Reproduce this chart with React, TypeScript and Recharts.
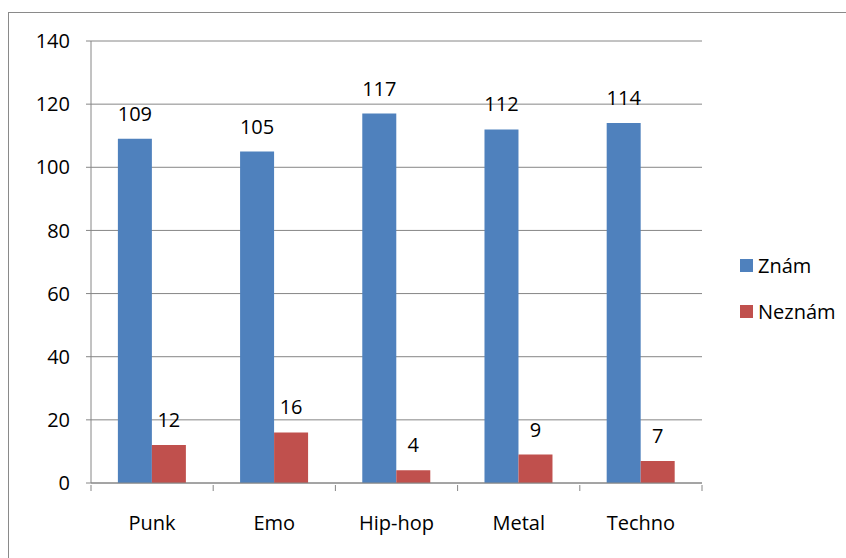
import { BarChart, Bar, XAxis, YAxis, CartesianGrid, LabelList } from 'recharts';

const genres = ['Punk', 'Emo', 'Hip-hop', 'Metal', 'Techno'];
const znam = [109, 105, 117, 112, 114];
const neznam = [12, 16, 4, 9, 7];
const yTicks = [0, 20, 40, 60, 80, 100, 120, 140];

const series = [
  { key: 'znam', name: 'Znám', color: '#4F81BD' },
  { key: 'neznam', name: 'Neznám', color: '#C0504D' },
];

const GRID = '#868686';
const FONT = '"Open Sans", sans-serif';

const data = genres.map((g, i) => ({ name: g, znam: znam[i], neznam: neznam[i] }));

// category label plus the small tick marks between categories
function GenreTick(props: any) {
  const { x, y, payload, index, width, visibleTicksCount } = props;
  const step = width / visibleTicksCount;
  return (
    <g>
      <line x1={x - step / 2} x2={x - step / 2} y1={y} y2={y + 6} stroke={GRID} />
      {index === visibleTicksCount - 1 && (
        <line x1={x + step / 2} x2={x + step / 2} y1={y} y2={y + 6} stroke={GRID} />
      )}
      <text x={x} y={y + 31} dy="0.71em" textAnchor="middle" fill="#000" fontSize={20} fontFamily={FONT}>
        {payload.value}
      </text>
    </g>
  );
}

export default function App() {
  return (
    <div style={{ position: 'relative', width: 846, height: 558, overflow: 'hidden', background: '#fff' }}>
      <style>{`body{margin:0}`}</style>
      <div
        style={{
          position: 'absolute',
          left: 8,
          top: 12,
          width: 900,
          height: 600,
          border: '1.5px solid #8a8a8a',
        }}
      />
      <div style={{ position: 'absolute', left: 0, top: 0 }}>
        <BarChart
          width={846}
          height={558}
          data={data}
          margin={{ top: 41, right: 144, bottom: 0, left: 0 }}
          barCategoryGap="22%"
          barGap={0}
        >
          <CartesianGrid vertical={false} stroke={GRID} strokeWidth={1} />
          <XAxis
            dataKey="name"
            height={75}
            tickLine={false}
            tickSize={0}
            axisLine={{ stroke: GRID }}
            tick={<GenreTick />}
            interval={0}
          />
          <YAxis
            width={91}
            domain={[0, 140]}
            ticks={yTicks}
            interval={0}
            tickSize={5}
            tickMargin={16}
            tickLine={{ stroke: GRID }}
            axisLine={{ stroke: GRID }}
            tick={{ fill: '#000', fontSize: 20, fontFamily: FONT }}
          />
          {series.map((s) => (
            <Bar key={s.key} dataKey={s.key} name={s.name} fill={s.color} isAnimationActive={false}>
              <LabelList dataKey={s.key} position="top" offset={18} fill="#000" fontSize={20} fontFamily={FONT} />
            </Bar>
          ))}
        </BarChart>
      </div>
      <div style={{ position: 'absolute', left: 740, top: 242, fontFamily: FONT, fontSize: 20, color: '#000' }}>
        {series.map((s) => (
          <div key={s.key} style={{ display: 'flex', alignItems: 'center', height: 46 }}>
            <span style={{ width: 13, height: 13, background: s.color, marginRight: 5, display: 'inline-block' }} />
            <span>{s.name}</span>
          </div>
        ))}
      </div>
    </div>
  );
}
